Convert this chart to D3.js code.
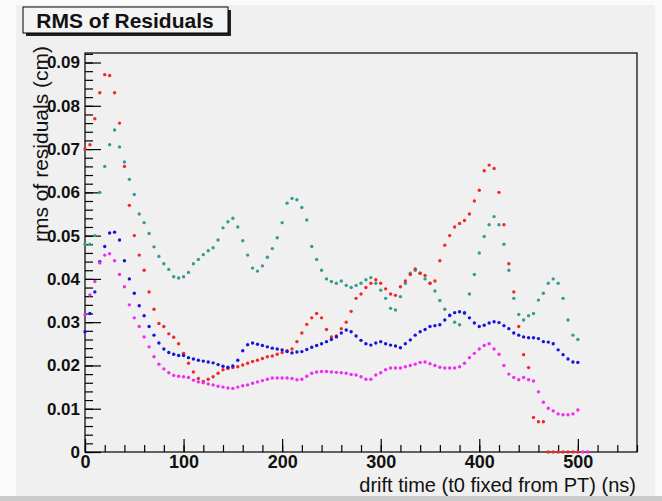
<!DOCTYPE html>
<html>
<head>
<meta charset="utf-8">
<script src="https://cdn.jsdelivr.net/npm/d3@7"></script>
<style>
  body { margin: 0; background: #fafafa; }
  svg { display: block; font-family: "Liberation Sans", Arial, sans-serif; }
</style>
</head>
<body>
<svg id="chart" width="662" height="501"></svg>
<script>
// drift time grid (ns)
var driftTime = [0,5,10,15,20,25,30,35,40,45,50,55,60,65,70,75,80,85,90,95,
  100,105,110,115,120,125,130,135,140,145,150,155,160,165,170,175,180,185,190,195,
  200,205,210,215,220,225,230,235,240,245,250,255,260,265,270,275,280,285,290,295,
  300,305,310,315,320,325,330,335,340,345,350,355,360,365,370,375,380,385,390,395,
  400,405,410,415,420,425,430,435,440,445,450,455,460,465,470,475,480,485,490,495,
  500,505,510];

// rms of residuals (cm), one list per series
var redRms = [0.070,0.071,0.077,0.083,0.0872,0.087,0.083,0.076,0.066,0.057,
  0.050,0.0455,0.042,0.037,0.033,0.0297,0.029,0.0273,0.0265,0.025,
  0.0228,0.0205,0.0185,0.017,0.0163,0.0168,0.0174,0.0182,0.019,0.0193,
  0.0195,0.0197,0.0201,0.0205,0.0209,0.0212,0.0216,0.022,0.0222,0.0226,
  0.023,0.0234,0.0238,0.0255,0.0275,0.0295,0.031,0.032,0.031,0.0283,
  0.0266,0.0268,0.0285,0.030,0.0325,0.0355,0.0365,0.038,0.039,0.0398,
  0.039,0.0377,0.0365,0.0362,0.0382,0.0395,0.041,0.0423,0.0413,0.0408,
  0.039,0.0395,0.0442,0.0478,0.050,0.052,0.0528,0.0535,0.055,0.058,
  0.0605,0.065,0.0663,0.0655,0.060,0.0525,0.0435,0.037,0.029,0.0225,
  0.0195,0.008,0.007,0.007,0,0,0,0,0,0,
  0];

var tealRms = [0.048,0.048,0.050,0.060,0.066,0.071,0.0744,0.0705,0.067,0.063,
  0.0595,0.055,0.053,0.0505,0.0474,0.0452,0.0435,0.0422,0.0405,0.0402,
  0.0405,0.0415,0.0435,0.0445,0.0456,0.0465,0.0472,0.049,0.0518,0.0532,
  0.054,0.052,0.0488,0.0455,0.0425,0.0418,0.043,0.045,0.047,0.0495,
  0.053,0.0575,0.0586,0.0583,0.0565,0.0536,0.0475,0.0445,0.042,0.040,
  0.0394,0.039,0.0395,0.0385,0.038,0.0385,0.039,0.0398,0.0403,0.039,
  0.0374,0.0355,0.0332,0.0328,0.0359,0.039,0.0413,0.042,0.0413,0.040,
  0.039,0.0372,0.035,0.033,0.0315,0.030,0.0294,0.032,0.0365,0.041,
  0.046,0.0498,0.0525,0.0544,0.0525,0.048,0.042,0.0355,0.0318,0.0305,
  0.0315,0.032,0.0351,0.0367,0.039,0.040,0.039,0.0355,0.0305,0.027,
  0.026];

var blueRms = [0.0278,0.032,0.037,0.044,0.0475,0.0506,0.0508,0.049,0.0442,0.040,
  0.0367,0.0338,0.0315,0.029,0.027,0.0252,0.0238,0.023,0.0226,0.0223,
  0.0223,0.0218,0.0215,0.0212,0.021,0.0208,0.0206,0.0202,0.0198,0.0196,
  0.0199,0.0212,0.0234,0.0248,0.0252,0.0249,0.0246,0.0243,0.024,0.0238,
  0.0236,0.0232,0.0229,0.0231,0.0232,0.0237,0.0242,0.0246,0.025,0.0255,
  0.026,0.0266,0.0275,0.0282,0.0278,0.0268,0.0258,0.025,0.0247,0.0252,
  0.0255,0.025,0.0247,0.0245,0.0241,0.025,0.0259,0.027,0.0278,0.0283,
  0.029,0.0292,0.0294,0.0305,0.0316,0.0322,0.0324,0.0322,0.031,0.0298,
  0.029,0.0293,0.0298,0.0301,0.0299,0.0292,0.0285,0.0275,0.027,0.0266,
  0.0264,0.0264,0.0262,0.0255,0.0254,0.025,0.0236,0.0225,0.0215,0.0208,
  0.0207];

var magentaRms = [0.0317,0.0363,0.0394,0.0437,0.0455,0.0458,0.0442,0.041,0.0382,0.034,
  0.031,0.029,0.0266,0.0243,0.022,0.0203,0.0192,0.0183,0.0177,0.0175,
  0.0174,0.0172,0.0166,0.0162,0.016,0.0157,0.0155,0.0152,0.015,0.0148,
  0.0147,0.015,0.0153,0.0155,0.0159,0.0162,0.0165,0.0168,0.0171,0.0171,
  0.0171,0.0171,0.017,0.0167,0.0168,0.0175,0.0182,0.0185,0.0186,0.0186,
  0.0185,0.0184,0.0183,0.0182,0.0179,0.0178,0.0174,0.0168,0.0168,0.0178,
  0.0183,0.019,0.0194,0.0194,0.0194,0.0197,0.020,0.0203,0.0207,0.0208,
  0.0204,0.020,0.0196,0.0194,0.0194,0.0194,0.0197,0.0205,0.0218,0.0228,
  0.0238,0.0246,0.025,0.0238,0.0226,0.020,0.018,0.0172,0.0167,0.0172,
  0.0167,0.0164,0.0139,0.0115,0.0101,0.0095,0.0088,0.0086,0.0086,0.0088,
  0.0097,0,0];

var seriesList = [
  { name: "teal", values: tealRms, color: "#359c8e" },
  { name: "red", values: redRms, color: "#f02828" },
  { name: "blue", values: blueRms, color: "#1414dc" },
  { name: "magenta", values: magentaRms, color: "#f02cf0" }
];

var xMajor = [0,100,200,300,400,500];
var yMajor = [0,0.01,0.02,0.03,0.04,0.05,0.06,0.07,0.08,0.09];

const svg = d3.select("#chart");

// pad / canvas
svg.append("rect").attr("x", 16).attr("y", 5).attr("width", 639).attr("height", 491)
  .attr("fill", "#f0f0f0");
svg.append("rect").attr("x", 0).attr("y", 496).attr("width", 662).attr("height", 5)
  .attr("fill", "#cccccc");

var xScale = d3.scaleLinear([0, 560], [85, 637]);
var yScale = d3.scaleLinear([0, 0.0922], [452, 53]);

// frame
svg.append("rect")
  .attr("x", xScale(0)).attr("y", yScale(0.0922))
  .attr("width", xScale(560) - xScale(0))
  .attr("height", yScale(0) - yScale(0.0922))
  .attr("fill", "none").attr("stroke", "#000").attr("stroke-width", 1.2);

// minor ticks (inside frame)
var xMinor = d3.range(0, 561, 20);
var yMinor = d3.range(0, 0.0921, 0.002);

svg.append("g")
  .attr("transform", "translate(0," + yScale(0) + ")")
  .call(d3.axisBottom(xScale).tickValues(xMinor).tickSize(-7).tickFormat(""))
  .call(g => g.select(".domain").remove());

svg.append("g")
  .attr("transform", "translate(" + xScale(0) + ",0)")
  .call(d3.axisLeft(yScale).tickValues(yMinor).tickSize(-8).tickFormat(""))
  .call(g => g.select(".domain").remove());

// major ticks + labels
var xAxis = svg.append("g")
  .attr("transform", "translate(0," + yScale(0) + ")")
  .call(d3.axisBottom(xScale).tickValues(xMajor).tickSize(-13).tickPadding(3)
    .tickFormat(d3.format("d")));
xAxis.select(".domain").remove();
xAxis.selectAll("text")
  .attr("font-size", 18).attr("font-weight", "bold").attr("fill", "#111")
  .attr("font-family", "'Liberation Sans', Arial, sans-serif");

var yAxis = svg.append("g")
  .attr("transform", "translate(" + xScale(0) + ",0)")
  .call(d3.axisLeft(yScale).tickValues(yMajor).tickSize(-16).tickPadding(5)
    .tickFormat(function(d) { return d === 0 ? "0" : d.toFixed(2); }));
yAxis.select(".domain").remove();
yAxis.selectAll("text")
  .attr("font-size", 17).attr("font-weight", "bold").attr("fill", "#111")
  .attr("font-family", "'Liberation Sans', Arial, sans-serif");

svg.selectAll(".tick line").attr("stroke", "#000").attr("stroke-width", 1.2);

// data points
seriesList.forEach(function(s) {
  svg.append("g")
    .attr("class", "series-" + s.name)
    .selectAll("circle")
    .data(s.values)
    .enter()
    .append("circle")
    .attr("cx", function(d, i) { return xScale(driftTime[i]); })
    .attr("cy", function(d) { return yScale(d); })
    .attr("r", 1.7)
    .attr("fill", s.color);
});

// axis titles
svg.append("text")
  .attr("x", 636).attr("y", 492)
  .attr("text-anchor", "end")
  .attr("font-size", 20)
  .attr("fill", "#111")
  .text("drift time (t0 fixed from PT) (ns)");

svg.append("text")
  .attr("transform", "translate(48,46) rotate(-90)")
  .attr("text-anchor", "end")
  .attr("font-size", 21)
  .attr("fill", "#111")
  .text("rms of residuals (cm)");

// title box
svg.append("rect").attr("x", 26).attr("y", 10).attr("width", 205).attr("height", 26)
  .attr("fill", "#222");
svg.append("rect").attr("x", 23).attr("y", 7).attr("width", 205).attr("height", 26)
  .attr("fill", "#f4f4f4").attr("stroke", "#000").attr("stroke-width", 1);
svg.append("text")
  .attr("x", 125).attr("y", 28)
  .attr("text-anchor", "middle")
  .attr("font-size", 21)
  .attr("font-weight", "bold")
  .attr("fill", "#111")
  .text("RMS of Residuals");
</script>
</body>
</html>
